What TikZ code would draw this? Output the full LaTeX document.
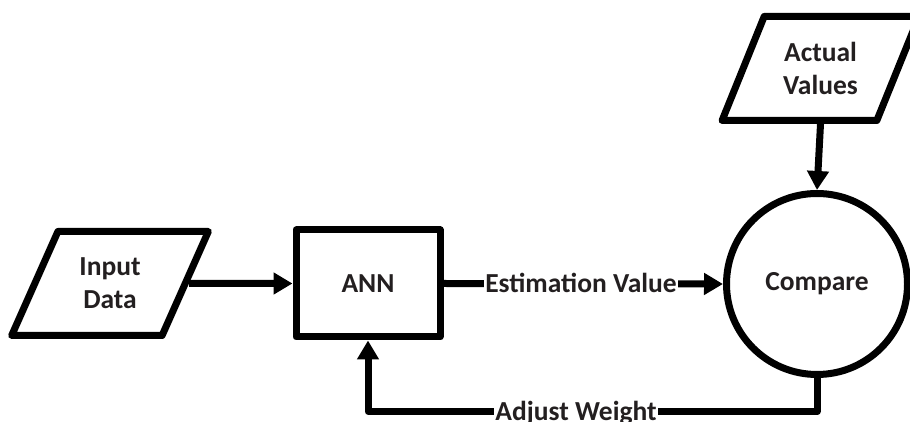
\documentclass[tikz,border=0pt]{standalone}
\usepackage{fontspec}
\setmainfont{Carlito}
\usetikzlibrary{shapes.geometric,arrows.meta}
\definecolor{txt}{RGB}{35,31,32}
\begin{document}
\begin{tikzpicture}[x=1pt,y=1pt,
  every node/.style={font=\fontsize{27.5}{33}\selectfont\bfseries, text=txt},
  shp/.style={draw=black, line width=7pt, line join=round},
  para/.style={shp, trapezium, trapezium left angle=62, trapezium right angle=118,
    trapezium stretches=true, minimum width=197pt, minimum height=104pt,
    align=center, inner sep=0pt},
  conn/.style={draw=black, line width=7pt, line join=round,
    -{Triangle[length=19pt,width=21pt]}},
  lbl/.style={fill=white, inner sep=1pt, anchor=base}
]
\useasboundingbox (0,0) rectangle (910,422);

\node[para] (input) at (110,138.5) {Input\\Data};
\node[para] (actual) at (820.5,353.5) {Actual\\Values};
\node[shp, minimum width=144pt, minimum height=107pt, inner sep=0pt] (ann) at (368,138.5) {ANN};
\node[shp, circle, minimum size=181pt, inner sep=0pt] (cmp) at (817,138) {Compare};

\draw[conn] (input.east) -- (ann.west);
\draw[conn] (ann.east) -- (cmp.west);
\node[lbl] (ev) at (581,129) {Estimation Value};
\draw[conn] (actual.south) -- (cmp.north);

\coordinate (aw) at (600,10.5);
\draw[conn] (cmp.south) |- (aw) -| (ann.south);
\node[lbl] (adj) at (576,1.3) {Adjust Weight};
\end{tikzpicture}
\end{document}
